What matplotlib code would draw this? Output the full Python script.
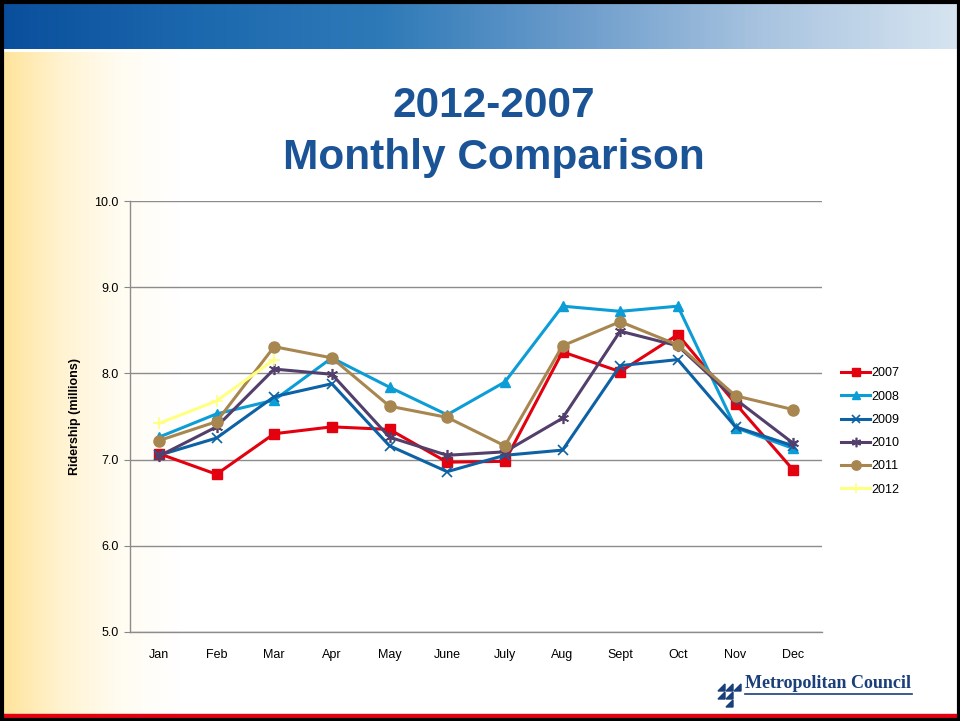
import numpy as np
import matplotlib
matplotlib.use("Agg")
import matplotlib.pyplot as plt
from matplotlib.colors import LinearSegmentedColormap
from matplotlib.patches import Rectangle, Polygon

plt.rcParams['font.family'] = ['Liberation Sans', 'DejaVu Sans']

months = ["Jan", "Feb", "Mar", "Apr", "May", "June", "July", "Aug", "Sept", "Oct", "Nov", "Dec"]
y2007 = [7.07, 6.83, 7.30, 7.38, 7.35, 6.97, 6.98, 8.25, 8.02, 8.45, 7.65, 6.88]
y2008 = [7.26, 7.53, 7.69, 8.18, 7.84, 7.52, 7.90, 8.78, 8.72, 8.78, 7.37, 7.13]
y2009 = [7.05, 7.25, 7.73, 7.88, 7.16, 6.86, 7.05, 7.11, 8.09, 8.16, 7.38, 7.16]
y2010 = [7.04, 7.38, 8.05, 7.99, 7.26, 7.05, 7.09, 7.48, 8.49, 8.32, 7.70, 7.19]
y2011 = [7.22, 7.44, 8.31, 8.18, 7.62, 7.49, 7.16, 8.32, 8.60, 8.33, 7.74, 7.58]
y2012 = [7.42, 7.68, 8.16]
yticks = [5.0, 6.0, 7.0, 8.0, 9.0, 10.0]

series = [
    ("2007", y2007, "#E3000F", "s", 7, dict()),
    ("2008", y2008, "#0C9DD6", "^", 7, dict()),
    ("2009", y2009, "#0D62A6", "x", 7, dict(markeredgewidth=1.2)),
    ("2010", y2010, "#523F6B", (6, 2, 0), 8, dict(markeredgewidth=1.2)),
    ("2011", y2011, "#A88650", "o", 8, dict()),
    ("2012", y2012, "#FFFF80", "+", 8, dict(markeredgewidth=1.2)),
]

W, H = 960, 721
fig = plt.figure(figsize=(W / 100, H / 100), dpi=100)
fig.patch.set_facecolor("white")

# background decoration
bg = fig.add_axes([0, 0, 1, 1], zorder=-10)
bg.set_xlim(0, W)
bg.set_ylim(H, 0)
bg.axis("off")
ycmap = LinearSegmentedColormap.from_list("yg", ["#FFE49B", "#FFF3D2", "#FFFCF2", "#FFFFFF"])
grad = np.linspace(0, 1, 256).reshape(1, -1)
bg.imshow(grad, cmap=ycmap, extent=[4, 180, 716, 52], aspect="auto", zorder=0)
bcmap = LinearSegmentedColormap.from_list("bb", ["#0A4F9C", "#1C68AE", "#2E7AB8", "#6C9CCB", "#A9C4E0", "#D6E4F0"])
bg.imshow(grad, cmap=bcmap, extent=[3, 957, 49, 3], aspect="auto", zorder=1)
bg.add_patch(Rectangle((3, 714), 954, 3, color="#E3000F", zorder=2))
bg.add_patch(Rectangle((1.5, 1.5), W - 3, H - 3, fill=False, edgecolor="black", linewidth=3, zorder=3))

# title
tx = 494 / W
fig.text(tx, 1 - 106 / H, "2012-2007", ha="center", va="center", fontsize=30.5,
         fontweight="bold", color="#1A5496")
fig.text(tx, 1 - 158 / H, "Monthly Comparison", ha="center", va="center", fontsize=30.5,
         fontweight="bold", color="#1A5496")

# logo
for (x0, y0) in [(718, 684), (726, 684), (734, 684), (718, 692), (726, 692), (726, 700)]:
    bg.add_patch(Polygon([[x0, y0 + 7], [x0 + 7, y0], [x0 + 7, y0 + 7]], closed=True,
                         color="#1A3F7A", zorder=4))
fig.text(745 / W, 1 - 684 / H, "Metropolitan Council", ha="left", va="center",
         fontsize=13, fontweight="bold", color="#1A3F7A",
         family=["Liberation Serif", "DejaVu Serif"])
bg.plot([745, 912], [694, 694], color="#1A3F7A", linewidth=1.2, zorder=4)

# main chart
ax = fig.add_axes([130 / W, 1 - 632 / H, (822 - 130) / W, (632 - 201) / H])
ax.patch.set_alpha(0)
x = np.arange(len(months))
for name, vals, col, mk, ms, kw in series:
    ax.plot(x[:len(vals)], vals, color=col, marker=mk, markersize=ms, linewidth=2.2,
            label=name, **kw)

ax.set_xlim(-0.5, len(months) - 0.5)
ax.set_ylim(5.0, 10.0)
ax.set_yticks(yticks)
ax.set_yticklabels([f"{v:.1f}" for v in yticks], fontsize=9)
ax.set_xticks(x)
ax.set_xticklabels(months, fontsize=9)
ax.tick_params(axis="x", length=0, pad=12)
ax.tick_params(axis="y", length=4, color="#888888", pad=4)
ax.yaxis.grid(True, color="#8C8C8C", linewidth=1)
ax.set_axisbelow(True)
for s in ["top", "right"]:
    ax.spines[s].set_visible(False)
for s in ["left", "bottom"]:
    ax.spines[s].set_color("#8C8C8C")
    ax.spines[s].set_linewidth(1)
ax.set_ylabel("Ridership (millions)", fontsize=9, fontweight="bold", labelpad=10)

leg = ax.legend(loc="center left", bbox_to_anchor=(1.015, 0.465), frameon=False,
                fontsize=9, handlelength=2.3, labelspacing=0.9, handletextpad=0.1,
                markerscale=0.85, borderaxespad=0.3)

fig.savefig("out.png", dpi=100)
